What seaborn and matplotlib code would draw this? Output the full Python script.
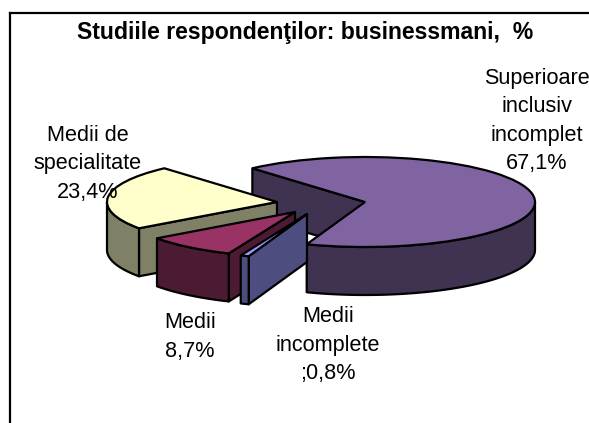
import numpy as np
import matplotlib
matplotlib.use("Agg")
import matplotlib.pyplot as plt
from matplotlib.colors import to_rgb
import seaborn as sns

title = "Studiile respondenţilor: businessmani,  %"
categories = ["Superioare\ninclusiv\nincomplet", "Medii\nincomplete", "Medii", "Medii de\nspecialitate"]
values = [67.1, 0.8, 8.7, 23.4]
separators = ["\n", "\n;", "\n", "\n"]
top_colors = ["#8064A2", "#9999FF", "#993366", "#FFFFCC"]

W, H = 589, 423
# pie centre, radii and depth in pixels
cx, cy, rx, ry, depth = 365, 202, 170, 45, 48
start_angle = 131.5
# how far each slice is pulled out, in pixels
pull = [(0, 0), (-58, 12), (-70, 10), (-88, 0)]
# label centres in pixels (x, y of the block middle)
label_pos = [(537, 121), (328, 345), (190, 337), (88, 164)]
draw_order = [0, 3, 2, 1]

sns.set_theme(style="white")
plt.rcParams["font.family"] = ["Liberation Sans", "DejaVu Sans"]

fig = plt.figure(figsize=(W / 100, H / 100), dpi=100)
ax = fig.add_axes([10 / W, 0, 1 - 10 / W, 1 - 13 / H])

wedges, _ = ax.pie(values, startangle=start_angle, counterclock=False, radius=1,
                   colors=top_colors, wedgeprops={"edgecolor": "black", "linewidth": 1.6})

ax.set_aspect("auto")
ax.set_frame_on(True)
ax.set_xlim((10 - cx) / rx, (W - cx) / rx)
ax.set_ylim((cy - H) / ry, (cy - 13) / ry)
for name in ["right", "bottom"]:
    ax.spines[name].set_visible(False)
for name in ["left", "top"]:
    ax.spines[name].set_visible(True)
    ax.spines[name].set_color("black")
    ax.spines[name].set_linewidth(1.6)

d = depth / ry


def side(xs, ys, color, z):
    ax.fill(xs, ys, facecolor=color, edgecolor="black", linewidth=1.6, zorder=z, joinstyle="round")


for rank, i in enumerate(draw_order):
    w = wedges[i]
    dx, dy = pull[i][0] / rx, -pull[i][1] / ry
    w.set_center((dx, dy))
    dark = tuple(c * 0.5 for c in to_rgb(top_colors[i]))
    z = 2 + rank * 3

    # cut face along the edge that looks at the viewer
    a = np.radians(w.theta2)
    ex, ey = dx + np.cos(a), dy + np.sin(a)
    side([dx, ex, ex, dx], [dy, ey, ey - d, dy - d], dark, z)

    # outer wall, only the front half of the arc shows
    angles = []
    t1, t2 = w.theta1, w.theta2
    for k in (-1, 0, 1):
        lo, hi = max(t1, 180 + 360 * k), min(t2, 360 + 360 * k)
        if lo < hi:
            angles = np.radians(np.linspace(lo, hi, 60))
    if len(angles):
        xs = dx + np.cos(angles)
        ys = dy + np.sin(angles)
        side(np.r_[xs, xs[::-1]], np.r_[ys, ys[::-1] - d], dark, z + 1)

    w.set_zorder(z + 2)

fig.text(305 / W, 1 - 33 / H, title, ha="center", va="center", fontsize=16.6, fontweight="bold", color="black")

for cat, val, sep, (x, y) in zip(categories, values, separators, label_pos):
    txt = cat + sep + f"{val:.1f}".replace(".", ",") + "%"
    fig.text(x / W, 1 - y / H, txt, ha="center", va="center", fontsize=15.6,
             color="black", linespacing=1.47, zorder=30)

fig.savefig("out.png", dpi=100)
